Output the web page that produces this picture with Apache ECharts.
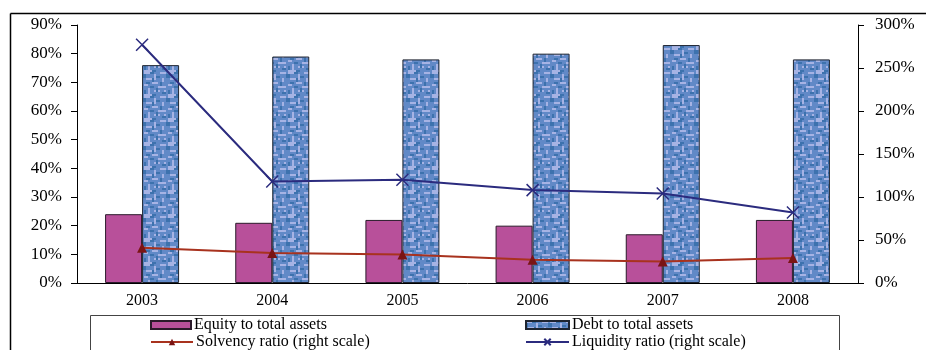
<!DOCTYPE html>
<html>
<head>
<meta charset="utf-8">
<script src="https://cdn.jsdelivr.net/npm/echarts@6/dist/echarts.min.js"></script>
<style>
  html, body { margin: 0; padding: 0; background: #fff; }
  #chart { width: 926px; height: 350px; }
</style>
</head>
<body>
<div id="chart"></div>
<script>
// Capital structure and ratios, 2003-2008
const years = ['2003', '2004', '2005', '2006', '2007', '2008'];
const equityToAssets = [24, 21, 22, 20, 17, 22];      // % (left scale)
const debtToAssets = [76, 79, 78, 80, 83, 78];        // % (left scale)
const solvencyRatio = [41, 35, 33, 27, 25, 29];       // % (right scale)
const liquidityRatio = [277, 118, 120, 108, 104, 82]; // % (right scale)
const leftTicks = { min: 0, max: 90, interval: 10 };
const rightTicks = { min: 0, max: 300, interval: 50 };

const FONT = '"Liberation Serif", "Times New Roman", serif';

// Mottled blue tile for the debt bars
function makeTexture() {
  const c = document.createElement('canvas');
  c.width = 24; c.height = 24;
  const g = c.getContext('2d');
  g.scale(2, 2);
  g.fillStyle = '#6189c7';
  g.fillRect(0, 0, 12, 12);
  const light = [[0,0,3,1],[5,1,1,3],[8,0,3,1],[1,3,3,1],[9,3,1,2],[0,6,2,1],[4,5,3,1],[7,7,4,1],[2,8,1,3],[5,9,3,1],[10,9,1,2],[0,11,4,1]];
  const dark = [[3,0,2,1],[0,1,1,2],[6,2,2,1],[11,1,1,2],[4,3,1,2],[1,5,2,1],[8,5,1,2],[3,7,2,1],[6,8,1,2],[9,10,2,1],[0,9,1,2],[4,11,2,1]];
  g.fillStyle = '#a6b3e4';
  light.forEach(r => g.fillRect(r[0], r[1], r[2], r[3]));
  g.fillStyle = '#3d72ae';
  dark.forEach(r => g.fillRect(r[0], r[1], r[2], r[3]));
  return c;
}
const texture = makeTexture();

const chart = echarts.init(document.getElementById('chart'), null, { renderer: 'canvas' });

const crossPath = 'path://M0,0L10,10M10,0L0,10';

function legendAt(left, top, name, iconWidth, icon) {
  const item = { name: name };
  if (icon) item.icon = icon;
  return {
    left: left, top: top, orient: 'horizontal', padding: 0,
    itemWidth: iconWidth, itemHeight: 8, itemGap: 0,
    textStyle: { fontFamily: FONT, fontSize: 16, color: '#000', padding: [0, 0, 0, -2] },
    data: [item]
  };
}

chart.setOption({
  animation: false,
  textStyle: { fontFamily: FONT },
  grid: { left: 77, right: 68, top: 25, bottom: 67 },
  legend: [
    legendAt(150, 317, 'Equity to total assets', 40, 'rect'),
    legendAt(150, 334, 'Solvency ratio (right scale)', 42),
    legendAt(525, 317, 'Debt to total assets', 43, 'rect'),
    legendAt(525, 334, 'Liquidity ratio (right scale)', 43)
  ],
  xAxis: {
    type: 'category',
    data: years,
    axisLine: { lineStyle: { color: '#000', width: 1 } },
    axisTick: { length: 5, lineStyle: { color: '#000' } },
    axisLabel: { color: '#000', fontSize: 16, fontFamily: FONT, margin: 10 }
  },
  yAxis: [
    {
      type: 'value', min: leftTicks.min, max: leftTicks.max, interval: leftTicks.interval,
      axisLine: { show: true, lineStyle: { color: '#000' } },
      axisTick: { show: true, length: 6, lineStyle: { color: '#000' } },
      splitLine: { show: false },
      axisLabel: { color: '#000', fontSize: 17, fontFamily: FONT, margin: 15, formatter: '{value}%' }
    },
    {
      type: 'value', min: rightTicks.min, max: rightTicks.max, interval: rightTicks.interval,
      position: 'right',
      axisLine: { show: true, lineStyle: { color: '#000' } },
      axisTick: { show: true, length: 6, lineStyle: { color: '#000' } },
      splitLine: { show: false },
      axisLabel: { color: '#000', fontSize: 17, fontFamily: FONT, margin: 17, formatter: '{value}%' }
    }
  ],
  series: [
    {
      name: 'Equity to total assets', type: 'bar', yAxisIndex: 0,
      data: equityToAssets, barWidth: 37, barGap: '0%',
      itemStyle: { color: '#b8509a', borderColor: '#2a1a2a', borderWidth: 1 }
    },
    {
      name: 'Debt to total assets', type: 'bar', yAxisIndex: 0,
      data: debtToAssets, barWidth: 37, barGap: '0%',
      itemStyle: { color: { image: texture, repeat: 'repeat' }, borderColor: '#1e2430', borderWidth: 1 }
    },
    {
      name: 'Solvency ratio (right scale)', type: 'line', yAxisIndex: 1,
      data: solvencyRatio,
      symbol: 'triangle', symbolSize: 10,
      lineStyle: { color: '#a8321e', width: 2 },
      itemStyle: { color: '#7a1414' },
      z: 5
    },
    {
      name: 'Liquidity ratio (right scale)', type: 'line', yAxisIndex: 1,
      data: liquidityRatio,
      symbol: crossPath, symbolSize: 12,
      lineStyle: { color: '#2b2b7e', width: 2 },
      itemStyle: { color: 'rgba(0,0,0,0)', borderColor: '#2b2b7e', borderWidth: 1.5 },
      z: 6
    }
  ],
  graphic: [
    // outer frame (left and top edges)
    { type: 'line', shape: { x1: 10.5, y1: 13.5, x2: 926, y2: 13.5 }, style: { stroke: '#000', lineWidth: 1.5 } },
    { type: 'line', shape: { x1: 10.5, y1: 13.5, x2: 10.5, y2: 350 }, style: { stroke: '#000', lineWidth: 1.5 } },
    // legend frame
    { type: 'rect', shape: { x: 90.5, y: 315.5, width: 749, height: 50 }, style: { fill: 'none', stroke: '#444', lineWidth: 1 }, z: -1 }
  ]
});
</script>
</body>
</html>
